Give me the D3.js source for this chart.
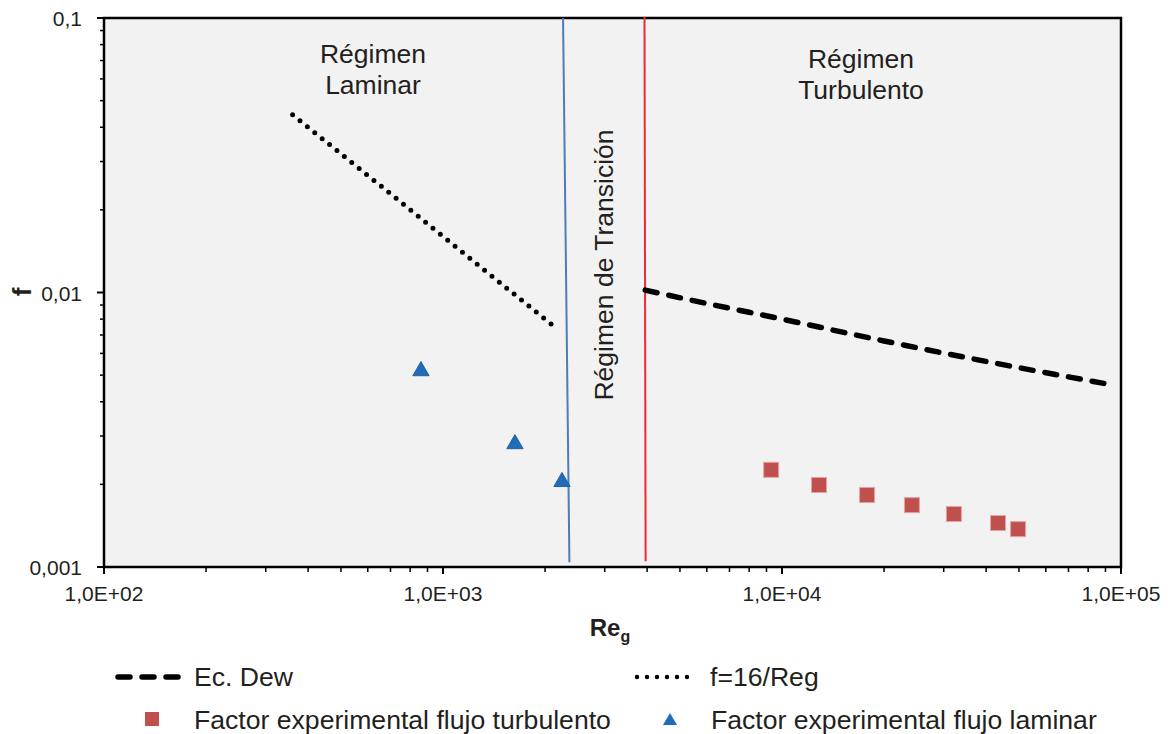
<!DOCTYPE html>
<html>
<head>
<meta charset="utf-8">
<script src="https://cdn.jsdelivr.net/npm/d3@7"></script>
<style>
  html, body { margin: 0; padding: 0; background: #ffffff; }
  svg text { font-family: "Liberation Sans", Arial, sans-serif; fill: #231f20; }
</style>
</head>
<body>
<svg id="chart" width="1171" height="734"></svg>
<script>
// ---------- data ----------
const xTickValues = [100, 1000, 10000, 100000];
const xTickLabels = ["1,0E+02", "1,0E+03", "1,0E+04", "1,0E+05"];
const yTickValues = [0.1, 0.01, 0.001];
const yTickLabels = ["0,1", "0,01", "0,001"];

const dewRe = [3950, 6000, 10000, 20000, 40000, 93000];
const dewF  = [0.0102, 0.00912, 0.0080, 0.00666, 0.00561, 0.00462];

const lamRe = [360, 700, 1300, 2150];
const lamF  = [0.0444, 0.0229, 0.0123, 0.00744];

const turbRe = [9290, 12860, 17820, 24170, 32140, 43380, 49700];
const turbF  = [0.00226, 0.00199, 0.00183, 0.00168, 0.00156, 0.001446, 0.001374];

const expLamRe = [861, 1630, 2244];
const expLamF  = [0.00522, 0.00283, 0.00206];

const blueLineRe = [2260, 2360];
const blueLineF  = [0.1, 0.00104];
const redLineRe  = [3930, 3960];
const redLineF   = [0.101, 0.00105];

const seriesNames = ["Ec. Dew", "f=16/Reg", "Factor experimental flujo turbulento", "Factor experimental flujo laminar"];

// ---------- layout ----------
const svg = d3.select("#chart");
const L = 104, R = 1121, T = 18, B = 567;
const x = d3.scaleLog().domain([100, 100000]).range([L, R]);
const y = d3.scaleLog().domain([0.001, 0.1]).range([B, T]);

// plot background
svg.append("rect").attr("x", L).attr("y", T).attr("width", R - L).attr("height", B - T)
  .attr("fill", "#f2f2f2");

// minor ticks
const minorX = [];
for (let d = 100; d < 100000; d *= 10) for (let k = 2; k <= 9; k++) minorX.push(d * k);
const minorY = [];
for (let d = 0.001; d < 0.1; d *= 10) for (let k = 2; k <= 9; k++) minorY.push(+(d * k).toPrecision(3));

const gx = svg.append("g");
gx.selectAll("line.minor").data(minorX).join("line")
  .attr("x1", d => x(d)).attr("x2", d => x(d)).attr("y1", B).attr("y2", B + 5)
  .attr("stroke", "#000").attr("stroke-width", 1.5);
gx.selectAll("line.major").data(xTickValues).join("line")
  .attr("x1", d => x(d)).attr("x2", d => x(d)).attr("y1", B).attr("y2", B + 7)
  .attr("stroke", "#000").attr("stroke-width", 2);
gx.selectAll("text").data(xTickValues).join("text")
  .attr("x", d => x(d)).attr("y", 601).attr("text-anchor", "middle")
  .attr("font-size", 21).text((d, i) => xTickLabels[i]);

const gy = svg.append("g");
gy.selectAll("line.minor").data(minorY).join("line")
  .attr("y1", d => y(d)).attr("y2", d => y(d)).attr("x1", L - 4).attr("x2", L)
  .attr("stroke", "#000").attr("stroke-width", 1.5);
gy.selectAll("line.major").data(yTickValues).join("line")
  .attr("y1", d => y(d)).attr("y2", d => y(d)).attr("x1", L - 7).attr("x2", L)
  .attr("stroke", "#000").attr("stroke-width", 2);
gy.selectAll("text").data(yTickValues).join("text")
  .attr("x", 82).attr("y", d => y(d) + 8).attr("text-anchor", "end")
  .attr("font-size", 21).text((d, i) => yTickLabels[i]);

// frame
svg.append("rect").attr("x", L).attr("y", T).attr("width", R - L).attr("height", B - T)
  .attr("fill", "none").attr("stroke", "#000").attr("stroke-width", 2.5);

// vertical region lines
const line = d3.line().x(d => x(d[0])).y(d => y(d[1]));
svg.append("path").attr("d", line(d3.zip(blueLineRe, blueLineF)))
  .attr("stroke", "#4a7ebb").attr("stroke-width", 2).attr("fill", "none");
svg.append("path").attr("d", line(d3.zip(redLineRe, redLineF)))
  .attr("stroke", "#ee2a2f").attr("stroke-width", 2).attr("fill", "none");

// Dew dashed
svg.append("path").attr("d", d3.line().curve(d3.curveMonotoneX).x(d => x(d[0])).y(d => y(d[1]))(d3.zip(dewRe, dewF)))
  .attr("stroke", "#000").attr("stroke-width", 5.5).attr("fill", "none")
  .attr("stroke-dasharray", "12,12").attr("stroke-linecap", "round");

// laminar dotted
svg.append("path").attr("d", line(d3.zip(lamRe, lamF)))
  .attr("stroke", "#000").attr("stroke-width", 5).attr("fill", "none")
  .attr("stroke-dasharray", "0,9.5").attr("stroke-linecap", "round");

// turbulent squares
const sq = 15;
svg.selectAll("rect.turb").data(d3.zip(turbRe, turbF)).join("rect")
  .attr("x", d => x(d[0]) - sq / 2).attr("y", d => y(d[1]) - sq / 2)
  .attr("width", sq).attr("height", sq)
  .attr("fill", "#c0504d").attr("stroke", "#e6a3a1").attr("stroke-width", 1);

// laminar triangles
const tri = d3.symbol().type(d3.symbolTriangle).size(115);
svg.selectAll("path.lam").data(d3.zip(expLamRe, expLamF)).join("path")
  .attr("transform", d => `translate(${x(d[0])},${y(d[1]) + 1})`)
  .attr("d", tri).attr("fill", "#1f6db8").attr("stroke", "#2a5f9e").attr("stroke-width", 1);

// region labels
const lab = svg.append("g").attr("font-size", 26.5);
lab.append("text").attr("x", 373).attr("y", 63).attr("text-anchor", "middle").text("Régimen");
lab.append("text").attr("x", 373).attr("y", 94).attr("text-anchor", "middle").text("Laminar");
lab.append("text").attr("x", 861).attr("y", 68).attr("text-anchor", "middle").text("Régimen");
lab.append("text").attr("x", 861).attr("y", 99).attr("text-anchor", "middle").text("Turbulento");
lab.append("text").attr("transform", "translate(613,265) rotate(-90)").attr("text-anchor", "middle")
  .text("Régimen de Transición");

// axis titles
svg.append("text").attr("transform", "translate(31,292) rotate(-90)").attr("text-anchor", "middle")
  .attr("font-size", 26).attr("font-weight", "bold").text("f");
const xt = svg.append("text").attr("x", 610).attr("y", 636).attr("text-anchor", "middle")
  .attr("font-size", 24).attr("font-weight", "bold");
xt.append("tspan").text("Re");
xt.append("tspan").attr("font-size", 16).attr("dy", 6).text("g");

// legend
const lg = svg.append("g").attr("font-size", 26.6);
lg.append("line").attr("x1", 118).attr("x2", 178).attr("y1", 677).attr("y2", 677)
  .attr("stroke", "#000").attr("stroke-width", 5.5).attr("stroke-dasharray", "12,12").attr("stroke-linecap", "round");
lg.append("text").attr("x", 194).attr("y", 686).text(seriesNames[0]);
lg.append("line").attr("x1", 637).attr("x2", 697).attr("y1", 677).attr("y2", 677)
  .attr("stroke", "#000").attr("stroke-width", 4.5).attr("stroke-dasharray", "0,10").attr("stroke-linecap", "round");
lg.append("text").attr("x", 710).attr("y", 686).text(seriesNames[1]);
lg.append("rect").attr("x", 145).attr("y", 712).attr("width", 14).attr("height", 14)
  .attr("fill", "#c0504d");
lg.append("text").attr("x", 194).attr("y", 729).text(seriesNames[2]);
lg.append("path").attr("transform", "translate(670,721)")
  .attr("d", d3.symbol().type(d3.symbolTriangle).size(85)).attr("fill", "#1f6db8");
lg.append("text").attr("x", 711).attr("y", 729).text(seriesNames[3]);
</script>
</body>
</html>
